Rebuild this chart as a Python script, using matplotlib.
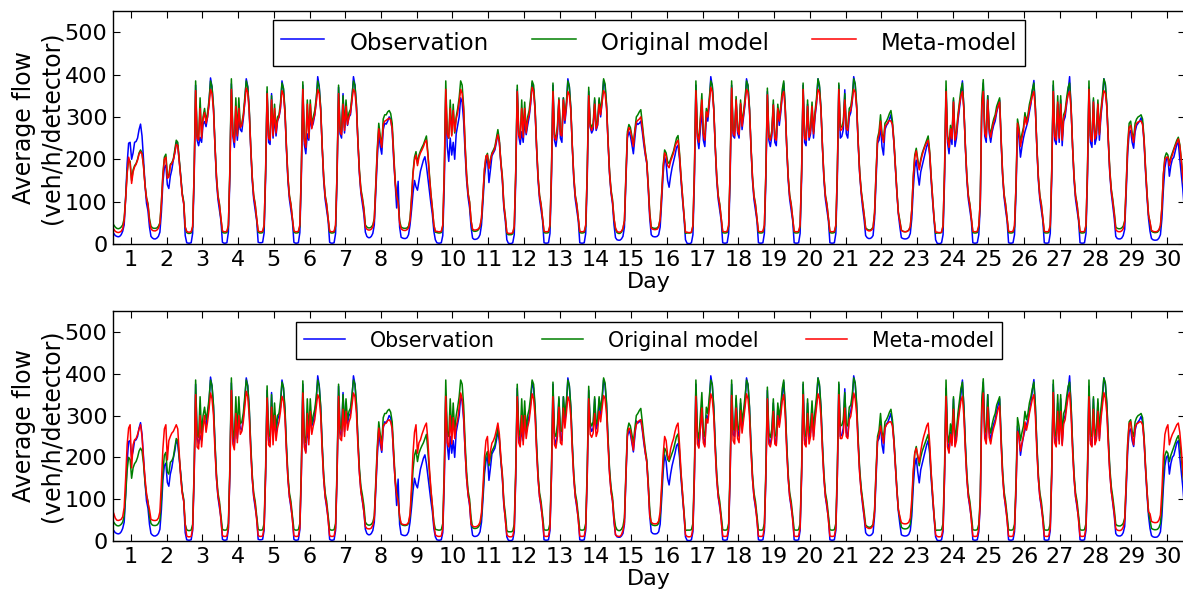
import numpy as np
import matplotlib
matplotlib.use("Agg")
import matplotlib.pyplot as plt

# Hourly average flow (veh/h/detector), one row of 24 hourly values per day (days 1..30)
observation = [
    [25, 20, 18, 17, 18, 22, 30, 45, 110, 190, 238, 240, 200, 215, 240, 242, 250, 270, 283, 255, 200, 140, 96, 78],
    [40, 18, 14, 12, 12, 14, 18, 28, 75, 145, 180, 186, 140, 131, 160, 175, 198, 215, 240, 232, 195, 159, 118, 95],
    [20, 3, 2, 2, 3, 25, 150, 375, 245, 232, 252, 240, 283, 289, 277, 300, 330, 392, 370, 320, 230, 150, 105, 80],
    [55, 4, 2, 2, 3, 28, 160, 378, 255, 228, 300, 245, 290, 270, 265, 295, 335, 390, 372, 315, 225, 150, 105, 80],
    [55, 4, 3, 3, 4, 26, 155, 360, 240, 235, 355, 250, 300, 255, 290, 300, 320, 385, 365, 310, 222, 148, 105, 80],
    [55, 4, 2, 2, 3, 27, 158, 375, 235, 213, 260, 245, 300, 275, 285, 305, 335, 395, 372, 318, 228, 150, 105, 80],
    [55, 4, 2, 2, 3, 25, 155, 370, 260, 250, 355, 262, 320, 280, 300, 305, 340, 395, 375, 325, 240, 165, 120, 95],
    [70, 28, 18, 15, 15, 18, 25, 45, 120, 200, 262, 230, 212, 270, 285, 283, 290, 300, 295, 270, 200, 145, 85, 148],
    [40, 16, 14, 13, 13, 15, 22, 45, 80, 120, 150, 135, 127, 150, 172, 185, 198, 206, 185, 155, 125, 96, 70, 30],
    [10, 3, 2, 2, 3, 20, 140, 350, 230, 195, 250, 210, 240, 200, 260, 280, 300, 345, 335, 290, 215, 150, 110, 85],
    [40, 14, 11, 11, 12, 15, 22, 45, 100, 160, 190, 205, 145, 175, 208, 215, 222, 240, 262, 240, 190, 150, 85, 55],
    [10, 2, 1, 1, 3, 22, 150, 365, 255, 235, 265, 240, 290, 258, 280, 300, 330, 380, 365, 315, 225, 150, 105, 80],
    [55, 3, 2, 2, 3, 25, 155, 375, 245, 230, 260, 340, 250, 240, 345, 285, 320, 390, 370, 318, 228, 150, 105, 80],
    [55, 3, 2, 2, 3, 25, 150, 360, 275, 262, 270, 340, 268, 280, 340, 300, 335, 385, 372, 325, 240, 165, 120, 95],
    [45, 15, 10, 9, 9, 12, 18, 40, 150, 250, 265, 255, 235, 213, 250, 287, 282, 285, 290, 265, 235, 210, 190, 130],
    [60, 22, 18, 17, 17, 18, 22, 40, 100, 165, 206, 190, 150, 134, 160, 180, 195, 210, 228, 233, 200, 150, 105, 64],
    [10, 2, 1, 1, 3, 22, 150, 375, 250, 225, 270, 320, 245, 230, 300, 290, 330, 395, 372, 318, 228, 150, 105, 80],
    [55, 3, 2, 2, 3, 25, 155, 375, 255, 250, 340, 262, 250, 330, 270, 300, 330, 390, 372, 318, 228, 150, 105, 80],
    [55, 3, 2, 2, 3, 25, 150, 360, 245, 230, 255, 330, 240, 232, 320, 280, 310, 350, 380, 320, 228, 150, 105, 80],
    [55, 3, 2, 2, 3, 25, 155, 375, 240, 232, 330, 245, 260, 320, 250, 300, 330, 390, 370, 318, 228, 150, 105, 80],
    [55, 3, 2, 2, 3, 25, 155, 375, 250, 254, 270, 364, 260, 250, 300, 310, 335, 395, 375, 320, 235, 165, 120, 85],
    [57, 20, 15, 13, 13, 15, 20, 60, 150, 238, 245, 280, 230, 210, 270, 280, 285, 295, 305, 280, 238, 180, 120, 70],
    [40, 15, 13, 12, 12, 13, 16, 25, 60, 130, 180, 198, 165, 139, 170, 185, 200, 215, 230, 240, 210, 150, 100, 55],
    [10, 2, 1, 1, 3, 22, 150, 365, 240, 213, 260, 235, 340, 230, 250, 290, 320, 350, 385, 318, 228, 150, 105, 80],
    [55, 3, 2, 2, 3, 22, 90, 320, 380, 255, 240, 350, 262, 240, 265, 280, 290, 310, 325, 340, 240, 160, 110, 80],
    [55, 3, 2, 2, 3, 22, 120, 275, 250, 205, 230, 250, 265, 277, 290, 312, 330, 360, 386, 320, 228, 150, 105, 80],
    [55, 3, 2, 2, 3, 25, 155, 375, 245, 235, 330, 240, 340, 232, 290, 300, 330, 360, 395, 320, 228, 150, 105, 80],
    [55, 3, 2, 2, 3, 25, 155, 370, 240, 228, 340, 235, 250, 330, 245, 300, 335, 390, 375, 325, 240, 165, 120, 90],
    [60, 18, 13, 12, 12, 14, 20, 35, 120, 215, 262, 268, 240, 226, 265, 280, 285, 290, 298, 285, 240, 170, 110, 60],
    [30, 13, 10, 9, 9, 10, 14, 22, 60, 130, 180, 200, 205, 160, 185, 200, 205, 220, 235, 240, 200, 165, 130, 85],
]

original_model = [
    [45, 40, 37, 36, 37, 40, 45, 60, 110, 170, 200, 195, 150, 175, 185, 190, 200, 215, 222, 215, 185, 140, 110, 95],
    [60, 42, 38, 37, 37, 38, 42, 50, 100, 165, 205, 212, 165, 160, 188, 192, 200, 222, 245, 240, 200, 160, 120, 100],
    [40, 27, 25, 25, 26, 40, 170, 385, 255, 248, 345, 255, 300, 320, 290, 310, 340, 385, 372, 325, 235, 160, 115, 95],
    [60, 28, 26, 26, 27, 42, 180, 390, 265, 245, 345, 260, 345, 280, 285, 305, 345, 385, 370, 320, 232, 160, 115, 95],
    [60, 28, 26, 26, 27, 42, 175, 371, 255, 250, 350, 260, 330, 270, 300, 305, 335, 380, 368, 318, 230, 158, 115, 95],
    [60, 28, 26, 26, 27, 42, 178, 383, 250, 235, 340, 255, 340, 280, 300, 315, 345, 385, 370, 322, 232, 160, 115, 95],
    [60, 28, 26, 26, 27, 42, 175, 375, 275, 265, 350, 275, 340, 290, 310, 318, 350, 385, 375, 330, 245, 175, 130, 110],
    [85, 45, 40, 38, 38, 40, 45, 60, 140, 225, 285, 255, 232, 295, 305, 305, 312, 315, 308, 285, 215, 150, 115, 100],
    [55, 40, 38, 37, 37, 38, 42, 60, 110, 170, 205, 218, 190, 210, 220, 228, 235, 245, 255, 215, 165, 120, 85, 45],
    [28, 27, 26, 26, 27, 42, 175, 385, 262, 250, 340, 258, 330, 262, 300, 320, 345, 385, 375, 325, 235, 165, 120, 100],
    [55, 32, 30, 30, 31, 34, 40, 60, 115, 175, 205, 214, 180, 200, 215, 222, 230, 250, 270, 245, 195, 160, 95, 65],
    [25, 22, 22, 22, 24, 40, 175, 375, 265, 250, 340, 258, 335, 265, 300, 315, 345, 385, 375, 322, 232, 160, 115, 95],
    [60, 27, 26, 26, 27, 42, 178, 380, 258, 250, 280, 345, 265, 262, 345, 300, 335, 385, 372, 322, 232, 160, 115, 95],
    [60, 27, 26, 26, 27, 42, 172, 370, 285, 275, 285, 345, 280, 290, 345, 312, 345, 390, 378, 330, 245, 172, 128, 105],
    [60, 35, 27, 25, 25, 28, 35, 55, 165, 265, 282, 275, 255, 235, 270, 300, 305, 312, 317, 285, 250, 220, 195, 140],
    [75, 40, 38, 37, 37, 38, 42, 60, 120, 185, 222, 215, 195, 190, 200, 210, 220, 235, 250, 256, 215, 160, 115, 70],
    [25, 26, 26, 26, 27, 42, 175, 385, 262, 245, 300, 355, 262, 250, 320, 305, 345, 385, 375, 322, 232, 160, 115, 95],
    [60, 27, 26, 26, 27, 42, 178, 385, 268, 265, 348, 275, 265, 340, 285, 312, 345, 385, 375, 322, 232, 160, 115, 95],
    [60, 27, 26, 26, 27, 42, 172, 368, 258, 248, 268, 340, 255, 250, 330, 295, 325, 365, 385, 325, 232, 160, 115, 95],
    [60, 27, 26, 26, 27, 42, 175, 380, 255, 250, 340, 258, 275, 335, 265, 312, 345, 390, 375, 322, 232, 160, 115, 95],
    [60, 27, 26, 26, 27, 42, 178, 380, 275, 277, 290, 355, 280, 275, 320, 325, 350, 390, 378, 328, 242, 172, 128, 100],
    [70, 38, 35, 33, 33, 35, 40, 75, 170, 250, 265, 305, 260, 246, 285, 290, 298, 308, 315, 290, 245, 185, 125, 75],
    [55, 33, 30, 29, 29, 30, 33, 40, 80, 160, 210, 226, 200, 180, 200, 215, 225, 235, 245, 255, 220, 160, 110, 60],
    [25, 26, 26, 26, 27, 42, 178, 385, 255, 235, 280, 255, 345, 250, 265, 305, 335, 365, 380, 322, 232, 160, 115, 95],
    [60, 27, 26, 26, 27, 40, 105, 335, 388, 270, 258, 350, 275, 258, 280, 295, 305, 325, 335, 345, 250, 168, 118, 95],
    [60, 27, 26, 26, 27, 40, 140, 295, 275, 240, 260, 275, 310, 290, 305, 330, 345, 365, 380, 325, 232, 160, 115, 95],
    [60, 27, 26, 26, 27, 42, 178, 385, 260, 250, 350, 255, 350, 250, 305, 315, 345, 370, 380, 325, 232, 160, 115, 95],
    [60, 27, 26, 26, 27, 42, 178, 385, 255, 250, 345, 252, 268, 340, 262, 315, 350, 390, 378, 330, 248, 175, 130, 105],
    [75, 40, 37, 36, 36, 38, 42, 55, 140, 235, 285, 290, 262, 250, 285, 295, 300, 302, 305, 295, 250, 180, 120, 70],
    [50, 30, 28, 27, 27, 28, 32, 42, 85, 165, 205, 215, 210, 190, 205, 215, 225, 235, 245, 252, 235, 200, 160, 130],
]

meta_model_top = [
    [35, 30, 28, 27, 28, 30, 36, 55, 105, 165, 205, 190, 143, 170, 182, 188, 198, 212, 218, 212, 183, 138, 108, 92],
    [55, 36, 32, 31, 31, 33, 37, 48, 95, 160, 200, 205, 155, 158, 185, 190, 198, 215, 235, 232, 195, 155, 115, 95],
    [40, 30, 28, 28, 29, 42, 165, 362, 250, 245, 320, 250, 295, 310, 285, 300, 330, 365, 355, 315, 230, 158, 112, 92],
    [60, 31, 29, 29, 30, 45, 170, 365, 258, 240, 325, 255, 320, 275, 280, 300, 335, 368, 358, 312, 228, 158, 112, 92],
    [60, 31, 29, 29, 30, 45, 168, 355, 250, 245, 340, 255, 320, 262, 292, 300, 325, 362, 352, 310, 226, 156, 112, 92],
    [60, 31, 29, 29, 30, 45, 170, 365, 245, 228, 330, 250, 330, 272, 292, 305, 335, 365, 355, 314, 228, 157, 112, 92],
    [60, 31, 29, 29, 30, 45, 168, 355, 265, 258, 330, 268, 325, 282, 300, 310, 340, 365, 358, 320, 240, 170, 125, 105],
    [80, 40, 35, 33, 33, 35, 40, 58, 135, 218, 272, 248, 228, 282, 290, 292, 295, 297, 292, 272, 208, 145, 112, 98],
    [50, 36, 33, 32, 32, 34, 38, 55, 105, 165, 198, 210, 185, 205, 215, 222, 230, 240, 245, 210, 160, 118, 83, 45],
    [30, 30, 29, 29, 30, 45, 168, 365, 258, 250, 320, 255, 315, 265, 295, 310, 335, 365, 355, 318, 230, 160, 118, 98],
    [55, 35, 33, 33, 34, 36, 42, 62, 118, 178, 208, 210, 178, 198, 212, 218, 226, 245, 258, 240, 192, 155, 92, 62],
    [28, 25, 25, 25, 27, 42, 168, 360, 258, 248, 320, 252, 320, 262, 292, 305, 335, 370, 360, 315, 228, 157, 112, 92],
    [60, 30, 29, 29, 30, 45, 170, 360, 252, 245, 270, 340, 258, 255, 340, 292, 325, 360, 352, 314, 228, 157, 112, 92],
    [60, 30, 29, 29, 30, 45, 165, 350, 278, 268, 278, 330, 272, 282, 330, 305, 335, 362, 355, 320, 240, 168, 124, 100],
    [60, 38, 30, 28, 28, 30, 37, 55, 160, 258, 275, 268, 250, 230, 265, 288, 292, 295, 300, 275, 245, 215, 192, 135],
    [70, 37, 35, 34, 34, 35, 40, 58, 115, 180, 215, 208, 185, 180, 195, 205, 215, 230, 240, 245, 210, 158, 112, 68],
    [28, 28, 27, 27, 28, 44, 168, 362, 255, 240, 290, 340, 258, 245, 312, 300, 335, 370, 360, 316, 228, 157, 112, 92],
    [60, 30, 29, 29, 30, 45, 172, 368, 262, 255, 340, 268, 258, 332, 278, 305, 335, 365, 358, 316, 228, 157, 112, 92],
    [60, 30, 29, 29, 30, 45, 165, 352, 252, 245, 262, 328, 250, 245, 320, 290, 318, 350, 360, 318, 228, 157, 112, 92],
    [60, 30, 29, 29, 30, 45, 170, 365, 250, 245, 325, 252, 268, 325, 260, 305, 335, 365, 358, 316, 228, 157, 112, 92],
    [60, 30, 29, 29, 30, 45, 170, 365, 268, 270, 282, 340, 272, 268, 310, 315, 340, 365, 358, 320, 238, 168, 124, 96],
    [68, 36, 33, 31, 31, 33, 38, 72, 165, 245, 258, 290, 255, 240, 278, 282, 288, 292, 290, 282, 240, 182, 122, 72],
    [52, 32, 30, 29, 29, 30, 33, 42, 82, 158, 205, 220, 195, 175, 195, 210, 222, 232, 240, 245, 215, 158, 108, 58],
    [28, 28, 27, 27, 28, 44, 168, 360, 248, 228, 272, 248, 335, 245, 260, 298, 328, 350, 360, 316, 228, 157, 112, 92],
    [60, 30, 29, 29, 30, 44, 100, 325, 360, 262, 252, 340, 268, 252, 272, 288, 298, 315, 325, 335, 245, 165, 115, 92],
    [60, 30, 29, 29, 30, 44, 135, 285, 265, 230, 250, 268, 300, 282, 298, 320, 335, 350, 360, 318, 228, 157, 112, 92],
    [60, 30, 29, 29, 30, 45, 170, 360, 255, 245, 335, 250, 330, 245, 298, 308, 335, 352, 360, 318, 228, 157, 112, 92],
    [60, 30, 29, 29, 30, 45, 170, 365, 250, 242, 335, 248, 260, 330, 258, 308, 340, 362, 356, 322, 242, 170, 126, 100],
    [70, 34, 30, 29, 29, 31, 36, 52, 135, 230, 275, 280, 255, 240, 275, 285, 288, 290, 290, 282, 245, 176, 118, 68],
    [52, 32, 30, 29, 29, 30, 34, 44, 88, 165, 200, 205, 205, 185, 200, 210, 222, 232, 240, 248, 232, 198, 158, 128],
]

meta_model_bottom = [
    [66, 55, 50, 49, 50, 52, 58, 80, 150, 230, 270, 278, 175, 230, 242, 245, 255, 268, 278, 250, 194, 150, 114, 90],
    [75, 52, 50, 49, 49, 50, 55, 70, 140, 220, 268, 278, 194, 240, 250, 258, 262, 270, 278, 268, 210, 150, 114, 95],
    [40, 12, 10, 10, 11, 30, 160, 350, 225, 220, 300, 225, 270, 300, 260, 285, 315, 354, 340, 300, 215, 150, 108, 88],
    [50, 13, 11, 11, 12, 32, 165, 360, 232, 218, 305, 235, 300, 255, 262, 285, 320, 358, 345, 300, 215, 150, 108, 88],
    [50, 13, 11, 11, 12, 32, 160, 342, 230, 225, 320, 230, 300, 240, 270, 285, 310, 346, 335, 296, 212, 148, 106, 86],
    [50, 13, 11, 11, 12, 32, 162, 354, 225, 210, 305, 230, 310, 255, 275, 290, 320, 350, 340, 300, 214, 149, 106, 86],
    [50, 13, 11, 11, 12, 32, 160, 346, 245, 240, 315, 250, 310, 265, 285, 295, 325, 354, 345, 305, 228, 162, 118, 98],
    [70, 35, 30, 29, 29, 31, 38, 55, 130, 215, 270, 245, 217, 275, 280, 282, 288, 290, 285, 268, 205, 142, 110, 96],
    [60, 42, 40, 39, 39, 40, 45, 65, 130, 210, 260, 278, 210, 235, 242, 255, 265, 275, 282, 240, 175, 125, 85, 40],
    [15, 12, 11, 11, 12, 30, 158, 346, 235, 225, 300, 232, 295, 245, 275, 290, 320, 354, 340, 300, 215, 150, 110, 90],
    [40, 36, 34, 34, 35, 38, 45, 68, 130, 200, 240, 250, 186, 215, 234, 240, 250, 265, 282, 255, 200, 155, 90, 50],
    [15, 11, 10, 10, 12, 30, 158, 345, 235, 225, 300, 230, 300, 245, 272, 288, 318, 352, 340, 298, 214, 148, 106, 86],
    [50, 12, 11, 11, 12, 32, 160, 345, 230, 222, 250, 320, 235, 230, 318, 270, 305, 345, 335, 298, 214, 149, 106, 86],
    [50, 12, 11, 11, 12, 32, 155, 340, 255, 248, 258, 305, 250, 262, 310, 285, 318, 348, 340, 302, 228, 160, 118, 96],
    [50, 15, 12, 11, 11, 15, 25, 45, 155, 255, 270, 265, 240, 217, 260, 278, 285, 288, 290, 270, 240, 212, 188, 130],
    [60, 45, 42, 41, 41, 42, 48, 70, 135, 205, 250, 240, 205, 194, 220, 234, 245, 262, 275, 282, 230, 165, 115, 65],
    [15, 11, 10, 10, 12, 30, 158, 346, 232, 222, 270, 318, 235, 225, 292, 282, 318, 352, 340, 298, 214, 148, 106, 86],
    [50, 12, 11, 11, 12, 32, 160, 348, 240, 232, 318, 245, 235, 312, 258, 288, 320, 352, 340, 298, 214, 149, 106, 86],
    [50, 12, 11, 11, 12, 32, 155, 340, 232, 225, 245, 310, 232, 228, 300, 272, 300, 335, 350, 300, 214, 149, 106, 86],
    [50, 12, 11, 11, 12, 32, 160, 350, 232, 225, 305, 232, 250, 305, 242, 288, 320, 352, 340, 298, 214, 149, 106, 86],
    [50, 12, 11, 11, 12, 32, 160, 350, 245, 245, 258, 318, 250, 245, 290, 298, 322, 354, 340, 302, 226, 160, 118, 92],
    [60, 34, 32, 30, 30, 32, 38, 70, 162, 240, 255, 275, 250, 234, 270, 278, 282, 285, 285, 275, 236, 180, 120, 75],
    [58, 44, 42, 41, 41, 42, 45, 55, 100, 170, 210, 222, 205, 188, 215, 235, 250, 262, 275, 282, 235, 165, 112, 58],
    [15, 11, 10, 10, 12, 30, 158, 346, 225, 210, 255, 228, 315, 225, 240, 280, 310, 335, 346, 298, 214, 148, 106, 86],
    [50, 12, 11, 11, 12, 30, 95, 310, 354, 245, 232, 320, 248, 232, 255, 270, 282, 300, 315, 323, 232, 155, 108, 86],
    [50, 12, 11, 11, 12, 30, 125, 262, 250, 215, 235, 250, 285, 265, 282, 305, 322, 340, 350, 300, 214, 149, 106, 86],
    [50, 12, 11, 11, 12, 32, 160, 355, 235, 225, 310, 232, 310, 228, 280, 290, 320, 345, 355, 300, 214, 149, 106, 86],
    [50, 12, 11, 11, 12, 32, 158, 345, 232, 225, 315, 230, 242, 310, 240, 290, 322, 355, 342, 305, 228, 162, 118, 94],
    [65, 30, 26, 25, 25, 27, 33, 50, 135, 230, 280, 285, 250, 230, 272, 280, 282, 285, 285, 278, 242, 175, 118, 70],
    [65, 47, 45, 44, 44, 45, 50, 62, 120, 205, 255, 270, 278, 230, 245, 255, 262, 270, 278, 282, 260, 220, 170, 130],
]

day_labels = [str(d) for d in range(1, 31)]
series_names = ["Observation", "Original model", "Meta-model"]
series_colors = ["#0000ff", "#008000", "#ff0000"]

obs = np.concatenate([np.array(d, float) for d in observation])
orig = np.concatenate([np.array(d, float) for d in original_model])
meta_top = np.concatenate([np.array(d, float) for d in meta_model_top])
meta_bot = np.concatenate([np.array(d, float) for d in meta_model_bottom])
hours = np.arange(len(obs)) + 0.5

plt.rcParams['font.family'] = ['DejaVu Sans']
fig = plt.figure(figsize=(11.83, 5.95), dpi=100)

W = 1183.0
H = 595.0
left = 113.0 / W
width = (1185.0 - 113.0) / W
ax_top = fig.add_axes([left, 1 - 244.0 / H, width, 233.0 / H])
ax_bot = fig.add_axes([left, 1 - 541.0 / H, width, 230.0 / H])

tick_pos = [12 + 24 * i for i in range(30)]

legend_styles = [
    dict(fontsize=16.5, borderpad=0.35, handleheight=1.6, handlelength=1.9,
         handletextpad=1.1, columnspacing=1.9, borderaxespad=0.4),
    dict(fontsize=14.8, borderpad=0.4, handleheight=0.7, handlelength=2.0,
         handletextpad=1.2, columnspacing=2.3, borderaxespad=0.55),
]

for ax, meta, lstyle in [(ax_top, meta_top, legend_styles[0]), (ax_bot, meta_bot, legend_styles[1])]:
    for vals, name, col in zip([obs, orig, meta], series_names, series_colors):
        ax.plot(hours, vals, color=col, lw=1.1, label=name)
    ax.set_xlim(0, 720)
    ax.set_ylim(0, 550)
    ax.set_yticks([0, 100, 200, 300, 400, 500])
    ax.set_xticks(tick_pos)
    ax.set_xticklabels(day_labels)
    ax.tick_params(direction='in', top=True, right=True, length=5, width=0.8,
                   labelsize=16, pad=4)
    ax.set_xlabel("Day", fontsize=16, labelpad=2)
    ax.set_ylabel("Average flow\n(veh/h/detector)", fontsize=17, labelpad=0.5)
    for s in ax.spines.values():
        s.set_linewidth(1.0)
    leg = ax.legend(loc='upper center', bbox_to_anchor=(0.5, 1.0), ncol=3,
                    frameon=True, fancybox=False, edgecolor='black',
                    framealpha=1, **lstyle)
    leg.get_frame().set_linewidth(1.0)

fig.savefig("out.png", dpi=100)
